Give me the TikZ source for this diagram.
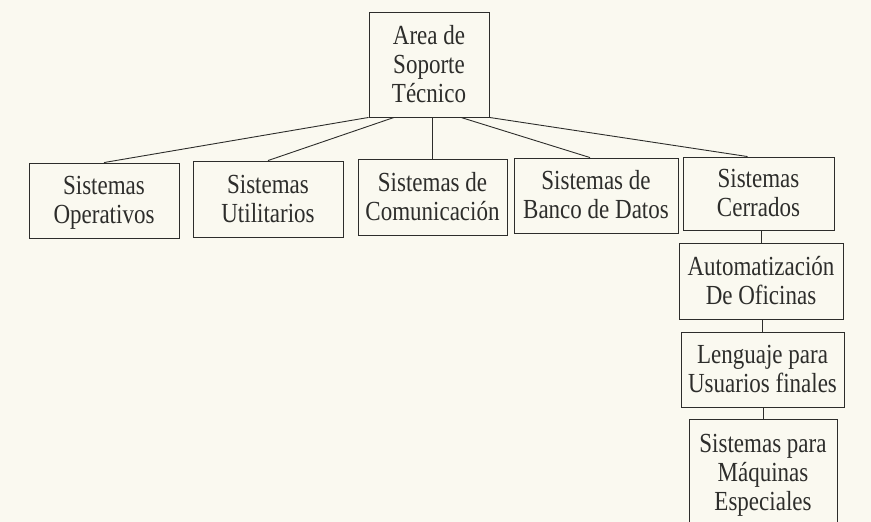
\documentclass[tikz,border=0pt]{standalone}
\usepackage{fontspec}
\setmainfont{Liberation Serif}
\definecolor{paper}{RGB}{250,249,240}
\definecolor{ink}{RGB}{45,45,43}
% the scan prints the lettering a little taller than wide
\newcommand{\lbl}[1]{\raisebox{-3pt}[\height][\depth]{\scalebox{1}[1.2]{\begin{tabular}{@{}c@{}}#1\end{tabular}}}}
\begin{document}
\begin{tikzpicture}
  [x=1pt,y=-1pt,every node/.style={draw=ink,line width=.9pt,text=ink,align=center,inner sep=0pt,
   font=\fontsize{23}{24}\selectfont}]
  \tikzstyle{link} = [draw=ink,line width=.9pt]
  \useasboundingbox (0,0) rectangle (871,522);
  \fill[paper] (0,0) rectangle (871,522);
  \clip (0,0) rectangle (871,522);

  \node[minimum width=120pt,minimum height=105pt] (sop) at (429,64.5) {\lbl{Area de\\Soporte\\Técnico}};

  \node[minimum width=150pt,minimum height=75pt] (op)   at (104,200.5) {\lbl{Sistemas\\Operativos}};
  \node[minimum width=150pt,minimum height=76pt] (util) at (268,199)   {\lbl{Sistemas\\Utilitarios}};
  \node[minimum width=149pt,minimum height=76pt] (com)  at (432.5,197) {\lbl{Sistemas de\\Comunicación}};
  \node[minimum width=164pt,minimum height=75pt] (bd)   at (596,195.5) {\lbl{Sistemas de\\Banco de Datos}};
  \node[minimum width=151pt,minimum height=73pt] (cer)  at (758.5,193.5) {\lbl{Sistemas\\Cerrados}};

  \node[minimum width=164pt,minimum height=76pt]  (auto) at (761,281)   {\lbl{Automatización\\De Oficinas}};
  \node[minimum width=163pt,minimum height=75pt]  (leng) at (762.5,369.5) {\lbl{Lenguaje para\\Usuarios finales}};
  \node[minimum width=148pt,minimum height=108pt] (maq)  at (763,473)   {\lbl{Sistemas para\\Máquinas\\Especiales}};

  % where the branches leave the top box and meet the row
  \coordinate (s2) at ([xshift=-35pt]sop.south);
  \coordinate (s3) at (com.north |- sop.south);
  \coordinate (s4) at ([xshift=32pt]sop.south);
  \coordinate (t4) at ([xshift=-6pt]bd.north);
  \coordinate (t5) at ([xshift=-11pt]cer.north);

\foreach \source /\dest in {sop.south west/op.north,s2/util.north,s3/com.north,s4/t4,sop.south east/t5}
   \draw[link] (\source) -- (\dest);

\foreach \source /\dest in {cer/auto,auto/leng,leng/maq}
   \draw[link] (\dest.north |- \source.south) -- (\dest.north);

  \end{tikzpicture}
\end{document}
